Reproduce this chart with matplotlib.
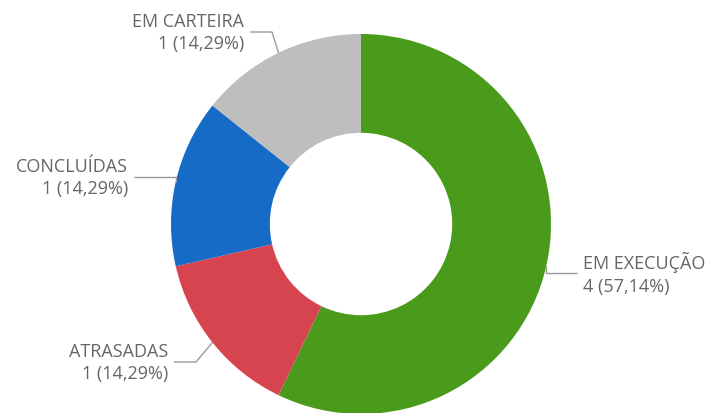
import numpy as np
import matplotlib.pyplot as plt

# chart data
categorias = ["EM EXECUÇÃO", "ATRASADAS", "CONCLUÍDAS", "EM CARTEIRA"]
valores = [4, 1, 1, 1]
cores = ["#4A9A1C", "#D6454F", "#156BC6", "#BEBEBE"]

plt.rcParams['font.family'] = ['Open Sans', 'DejaVu Sans']

W, H = 724, 414
fig = plt.figure(figsize=(W / 100, H / 100), dpi=100)
ax = fig.add_axes([0, 0, 1, 1])

cx, cy, R = 361, H - 225, 190
wedges, _ = ax.pie(valores, colors=cores, startangle=90, counterclock=False,
                   radius=R, center=(cx, cy),
                   wedgeprops=dict(width=R * 0.52, linewidth=0))

# pie() resets the limits, so set them afterwards (1 unit = 1 pixel)
ax.set_xlim(0, W)
ax.set_ylim(0, H)
ax.set_aspect('equal')
ax.axis('off')

# label placement: (text x, text mid y in pixels from top, side)
pos = {
    "EM EXECUÇÃO": (583, 274, 'left'),
    "ATRASADAS": (168, 363, 'right'),
    "CONCLUÍDAS": (128, 178, 'right'),
    "EM CARTEIRA": (244, 33, 'right'),
}

total = sum(valores)
for w, nome, v in zip(wedges, categorias, valores):
    ang = np.deg2rad((w.theta1 + w.theta2) / 2)
    px = cx + R * np.cos(ang)
    py = cy + R * np.sin(ang)
    tx, ty, side = pos[nome]
    ty = H - ty
    pct = f"{100 * v / total:.2f}".replace('.', ',')
    texto = f"{nome}\n{v} ({pct}%)"
    if side == 'left':
        ex = tx - 6
        kx = ex - 22
    else:
        ex = tx + 6
        kx = ex + 22
    if abs(py - ty) < 8:
        kx = px
    ax.plot([px, kx, ex], [py, ty, ty], color='#9a9a9a', lw=1, solid_capstyle='butt')
    ax.text(tx, ty, texto, ha=side, va='center', fontsize=13,
            color='#666666', linespacing=1.3)

fig.savefig('out.png', dpi=100)
